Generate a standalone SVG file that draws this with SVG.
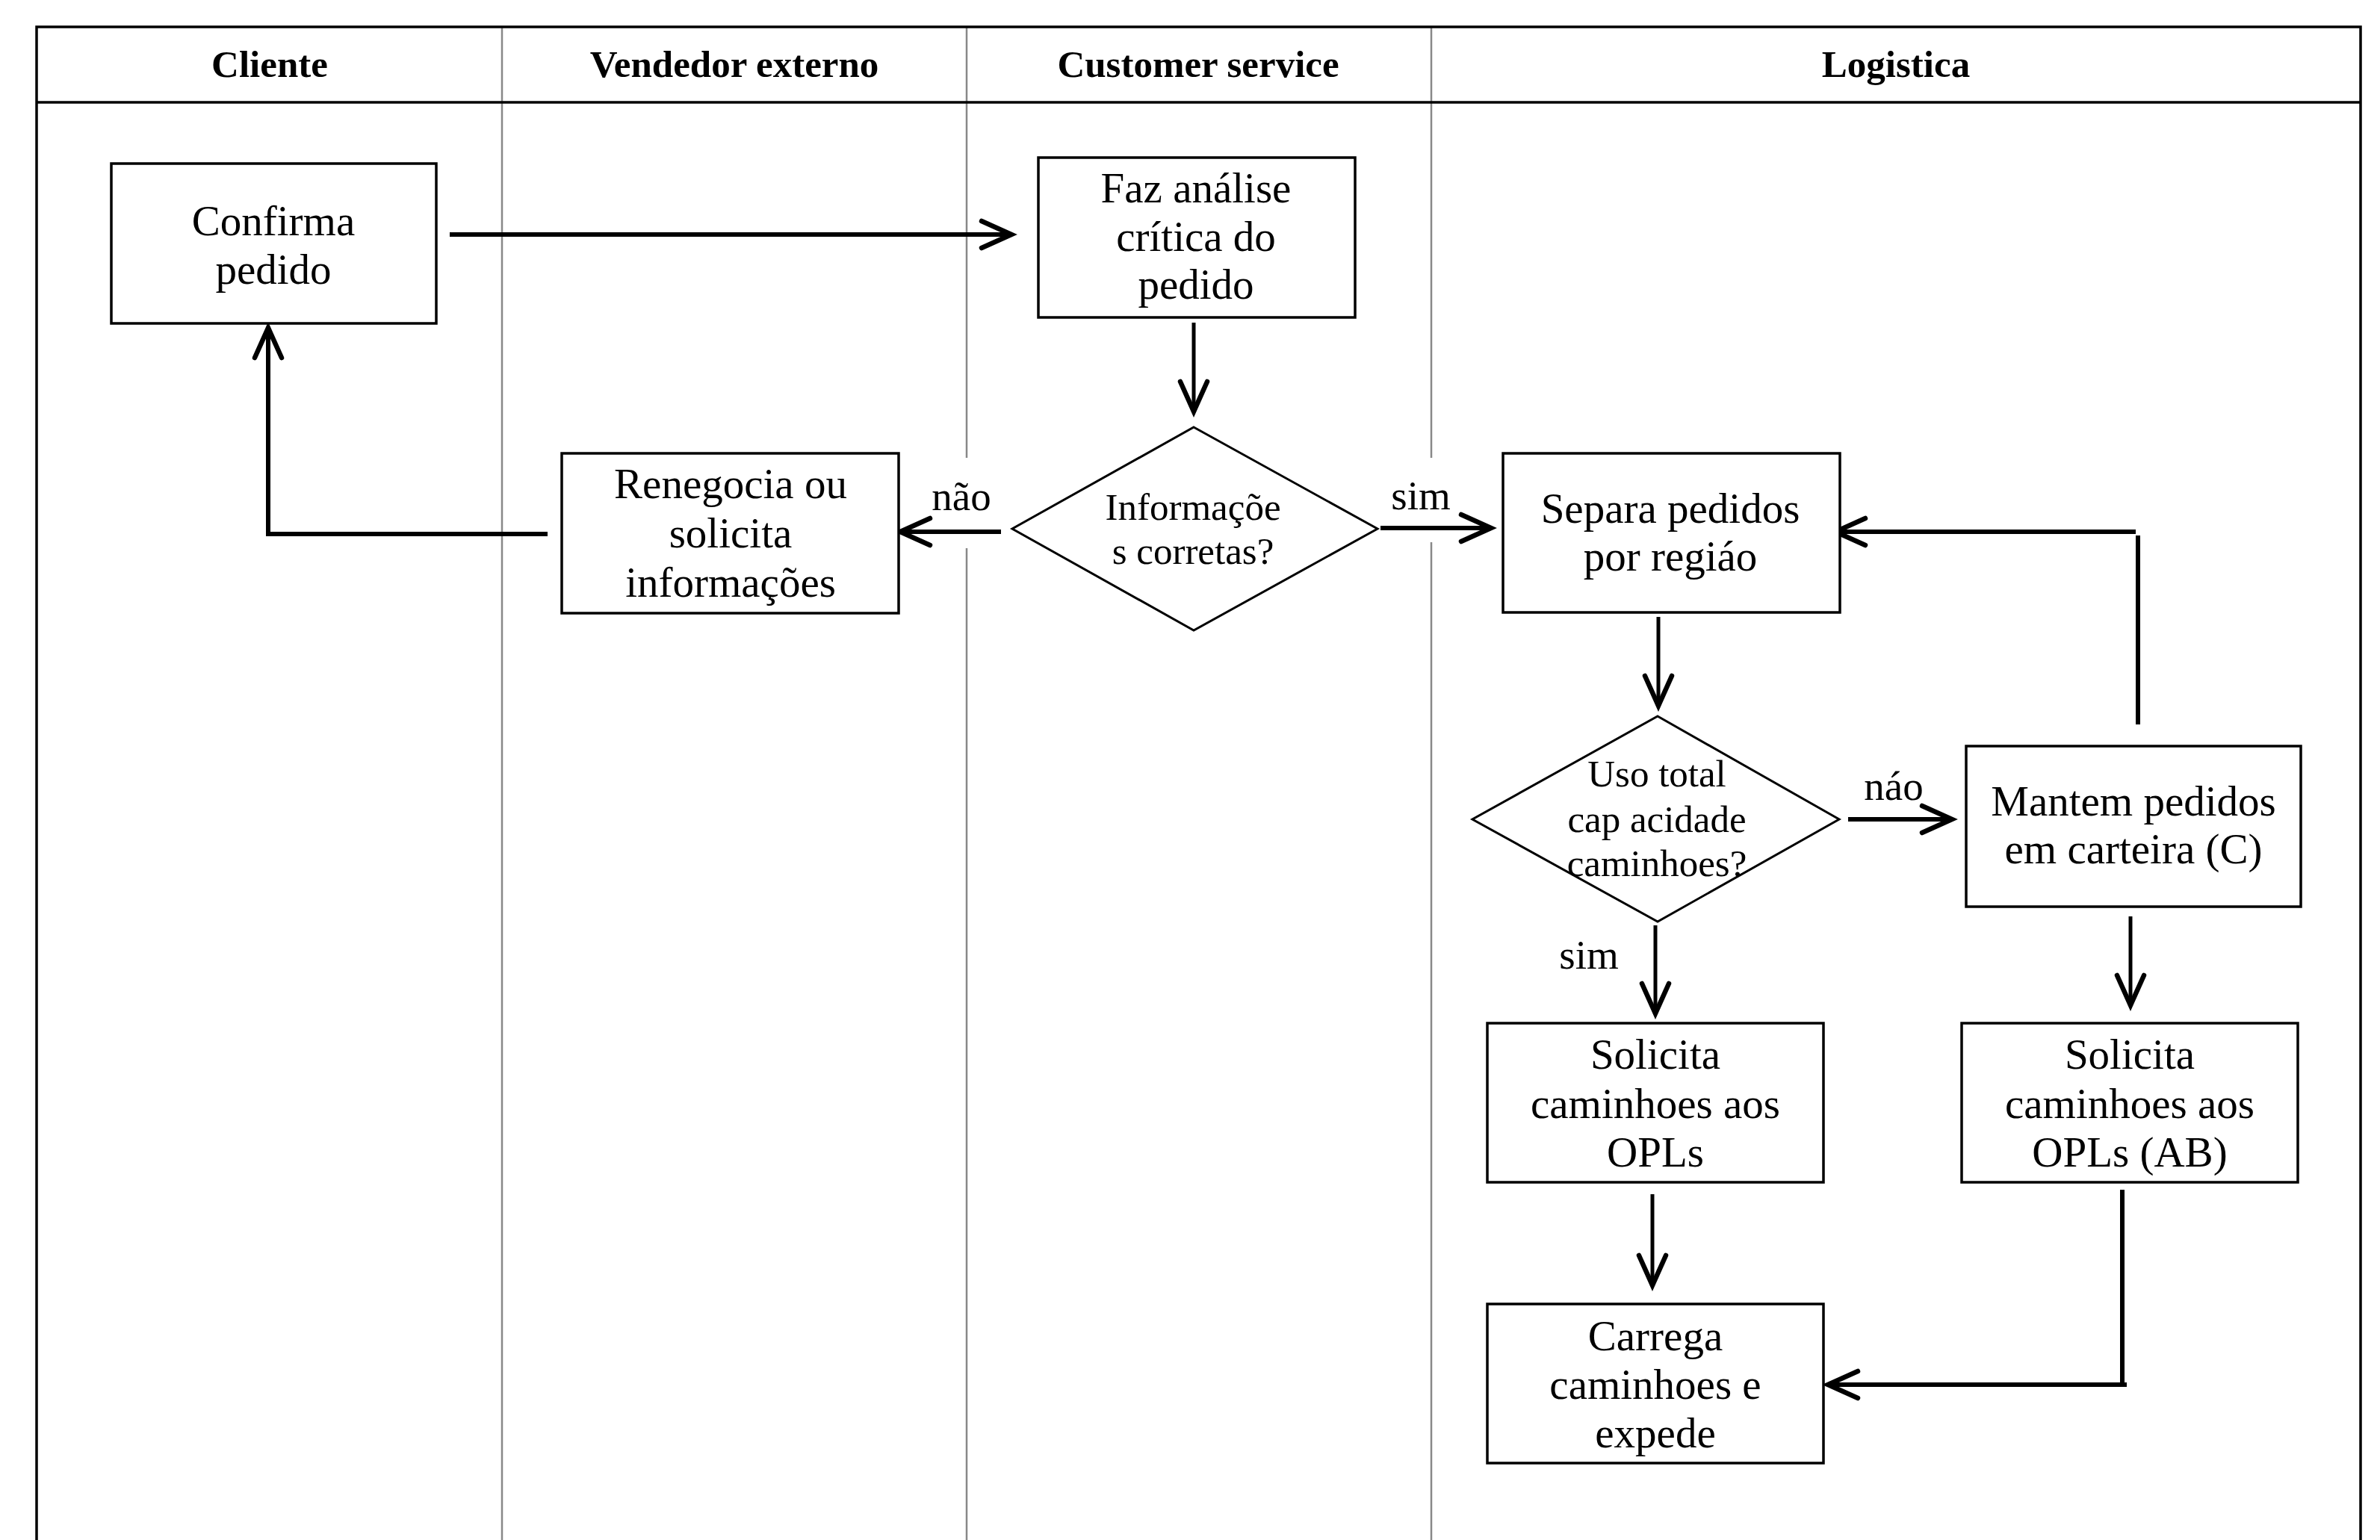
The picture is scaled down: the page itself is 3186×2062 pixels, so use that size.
<svg xmlns="http://www.w3.org/2000/svg" width="3186" height="2062" viewBox="0 0 3186 2062">
<style>
.frame{fill:none;stroke:#000;stroke-width:3.5}
.lane{fill:none;stroke:#888;stroke-width:2.5}
.hdr{font-family:"Liberation Serif","Times New Roman",serif;font-weight:bold;font-size:51px;text-anchor:middle;fill:#000}
.box{fill:#fff;stroke:#000;stroke-width:3.5}
.dia{fill:#fff;stroke:#000;stroke-width:3}
.t{font-family:"Liberation Serif","Times New Roman",serif;font-size:57px;text-anchor:middle;fill:#000}
.td{font-family:"Liberation Serif","Times New Roman",serif;font-size:51px;text-anchor:middle;fill:#000}
.lbl{font-family:"Liberation Serif","Times New Roman",serif;font-size:55px;text-anchor:middle;fill:#000}
.c{fill:none;stroke:#000;stroke-width:6;marker-end:url(#ah)}
.cv{fill:none;stroke:#000;stroke-width:5;marker-end:url(#ah)}
.seg{fill:none;stroke:#000;stroke-width:6}
</style>
<defs>
<marker id="ah" markerUnits="userSpaceOnUse" viewBox="-50 -30 60 60" markerWidth="60" markerHeight="60" refX="0" refY="0" orient="auto" overflow="visible">
<path d="M-40,-18 L0,0 L-40,18" fill="none" stroke="#000" stroke-width="6.5" stroke-linecap="round" stroke-linejoin="miter"/>
</marker>
</defs>
<rect width="3186" height="2062" fill="#fff"/>
<g id="lanes">
<line class="lane" x1="672" y1="36" x2="672" y2="2062"/>
<line class="lane" x1="1294" y1="36" x2="1294" y2="613"/>
<line class="lane" x1="1294" y1="734" x2="1294" y2="2062"/>
<line class="lane" x1="1916" y1="36" x2="1916" y2="613"/>
<line class="lane" x1="1916" y1="726" x2="1916" y2="2062"/>
<path class="frame" d="M49,2062 V36 H3160 V2062"/>
<line class="frame" x1="49" y1="137" x2="3160" y2="137"/>
<text class="hdr" x="361" y="103">Cliente</text>
<text class="hdr" x="983" y="103">Vendedor externo</text>
<text class="hdr" x="1604" y="103">Customer service</text>
<text class="hdr" x="2538" y="103">Logistica</text>
</g>
<g id="connectors">
<path class="c" d="M602,314 H1354"/>
<path class="cv" d="M1598,432 V551"/>
<path class="c" d="M1340,712 H1205"/>
<path class="c" d="M733,715 H359 V439"/>
<path class="c" d="M1848,707 H1996"/>
<path class="seg" d="M2862,970 V717"/>
<path class="c" d="M2859,712 H2457"/>
<path class="cv" d="M2220,826 V945"/>
<path class="c" d="M2474,1097 H2613"/>
<path class="cv" d="M2216,1239 V1357"/>
<path class="cv" d="M2852,1227 V1346"/>
<path class="cv" d="M2212,1599 V1721"/>
<path class="seg" d="M2841,1593 V1856"/>
<path class="c" d="M2847,1854 H2447"/>
</g>
<g id="n-confirma">
<rect class="box" x="149" y="219" width="435" height="214"/>
<text class="t" x="366" y="315">Confirma</text>
<text class="t" x="366" y="380">pedido</text>
</g>
<g id="n-faz">
<rect class="box" x="1390" y="211" width="424" height="214"/>
<text class="t" x="1601" y="271">Faz análise</text>
<text class="t" x="1601" y="336">crítica do</text>
<text class="t" x="1601" y="400">pedido</text>
</g>
<g id="n-info">
<polygon class="dia" points="1598,572 1844,708 1598,844 1355,708"/>
<text class="td" x="1597" y="696">Informaçõe</text>
<text class="td" x="1597" y="755">s corretas?</text>
</g>
<g id="n-renegocia">
<rect class="box" x="752" y="607" width="451" height="214"/>
<text class="t" x="978" y="667">Renegocia ou</text>
<text class="t" x="978" y="733">solicita</text>
<text class="t" x="978" y="799">informações</text>
</g>
<g id="n-separa">
<rect class="box" x="2012" y="607" width="451" height="213"/>
<text class="t" x="2236" y="700">Separa pedidos</text>
<text class="t" x="2236" y="764">por regiáo</text>
</g>
<g id="n-uso">
<polygon class="dia" points="2219,959 2462,1097 2219,1234 1971,1097"/>
<text class="td" x="2218" y="1053">Uso total</text>
<text class="td" x="2218" y="1114">cap acidade</text>
<text class="td" x="2218" y="1173">caminhoes?</text>
</g>
<g id="n-mantem">
<rect class="box" x="2632" y="999" width="448" height="215"/>
<text class="t" x="2856" y="1092">Mantem pedidos</text>
<text class="t" x="2856" y="1156">em carteira  (C)</text>
</g>
<g id="n-solicita">
<rect class="box" x="1991" y="1370" width="450" height="213"/>
<text class="t" x="2216" y="1431">Solicita</text>
<text class="t" x="2216" y="1497">caminhoes aos</text>
<text class="t" x="2216" y="1562">OPLs</text>
</g>
<g id="n-solicita-ab">
<rect class="box" x="2626" y="1370" width="450" height="213"/>
<text class="t" x="2851" y="1431">Solicita</text>
<text class="t" x="2851" y="1497">caminhoes aos</text>
<text class="t" x="2851" y="1562">OPLs (AB)</text>
</g>
<g id="n-carrega">
<rect class="box" x="1991" y="1746" width="450" height="213"/>
<text class="t" x="2216" y="1808">Carrega</text>
<text class="t" x="2216" y="1873">caminhoes e</text>
<text class="t" x="2216" y="1938">expede</text>
</g>
<g id="labels">
<text class="lbl" x="1287" y="683">não</text>
<text class="lbl" x="1902" y="682">sim</text>
<text class="lbl" x="2535" y="1071">náo</text>
<text class="lbl" x="2127" y="1297">sim</text>
</g>
</svg>
